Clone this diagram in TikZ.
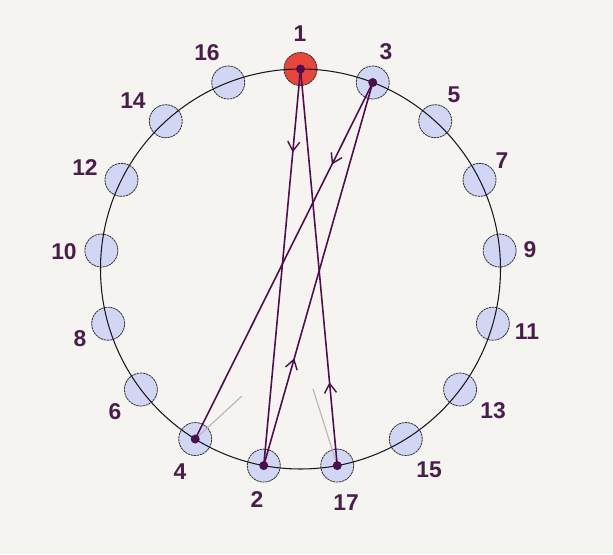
\documentclass[tikz,border=0pt]{standalone}
\usepackage{fontspec}
\setmainfont{Liberation Sans}
\usetikzlibrary{
    arrows.meta,
    calc,
    decorations.markings
}

\definecolor{paper}{HTML}{F5F4F0}
\definecolor{lavender}{HTML}{D2D6F5}
\definecolor{startred}{HTML}{E8463C}
\definecolor{tourpurple}{HTML}{4E0E4E}
\definecolor{numpurple}{HTML}{4A1E4A}

\tikzset{
    seat/.style={circle,draw=black!80,line width=0.7pt,dash pattern=on 2pt off 0.6pt,fill=lavender,minimum size=0.99cm,inner sep=0pt},
    firstseat/.style={seat,fill=startred},
    num/.style={text=numpurple,font=\fontsize{19.5}{22}\selectfont\bfseries},
    hop/.style={draw=tourpurple,line width=1.35pt},
    midarrow/.style={postaction={decorate},decoration={markings,mark=at position #1 with {\arrow[line width=1.2pt]{Straight Barb[length=2.8mm,width=3.6mm]}}}},
    stud/.style={tourpurple}
}

\begin{document}
\begin{tikzpicture}[x=0.03cm,y=0.03cm]

% Background
\fill[paper] (0,0) rectangle (613,554);
\useasboundingbox (0,0) rectangle (613,554);

% Seats round the table
\coordinate (c) at (300.5,285);
\foreach \n in {2,...,17}{
    \pgfmathsetmacro\ang{90-mod((\n-1)*9,17)*360/17}
    \node[seat] (n\n) at ($(c)+(\ang:200)$) {};
}
\node[firstseat] (n1) at ($(c)+(90:200)$) {};

% Table
\draw[black!90,line width=0.9pt] (c) circle (200);

% Faint strokes
\coordinate (g4) at (242,158);
\coordinate (g17) at (313,165);
\draw[gray!55,line width=1pt] (n4.center) -- (g4);
\draw[gray!55,line width=1pt] (n17.center) -- (g17);

% Tour
\draw[hop,midarrow=0.21] (n1.center) -- (n2.center);
\draw[hop,midarrow=0.28] (n2.center) -- (n3.center);
\draw[hop,midarrow=0.23] (n3.center) -- (n4.center);
\draw[hop,midarrow=0.21] (n17.center) -- (n1.center);
\foreach \n in {1,2,3,4,17}
    \fill[stud] (n\n.center) circle (4.5);

% Numbers
\foreach \n/\x/\y in {1/300/520, 3/386/502, 5/454/459, 7/502/393, 9/530/304,
    11/527/222, 13/493/143, 15/429/84, 17/346/51, 2/257/54, 4/180/82,
    6/115/142, 8/80/215, 10/64/302, 12/85/386, 14/133/453, 16/207/501}
    \node[num] (l\n) at (\x,\y) {\n};

\end{tikzpicture}
\end{document}
